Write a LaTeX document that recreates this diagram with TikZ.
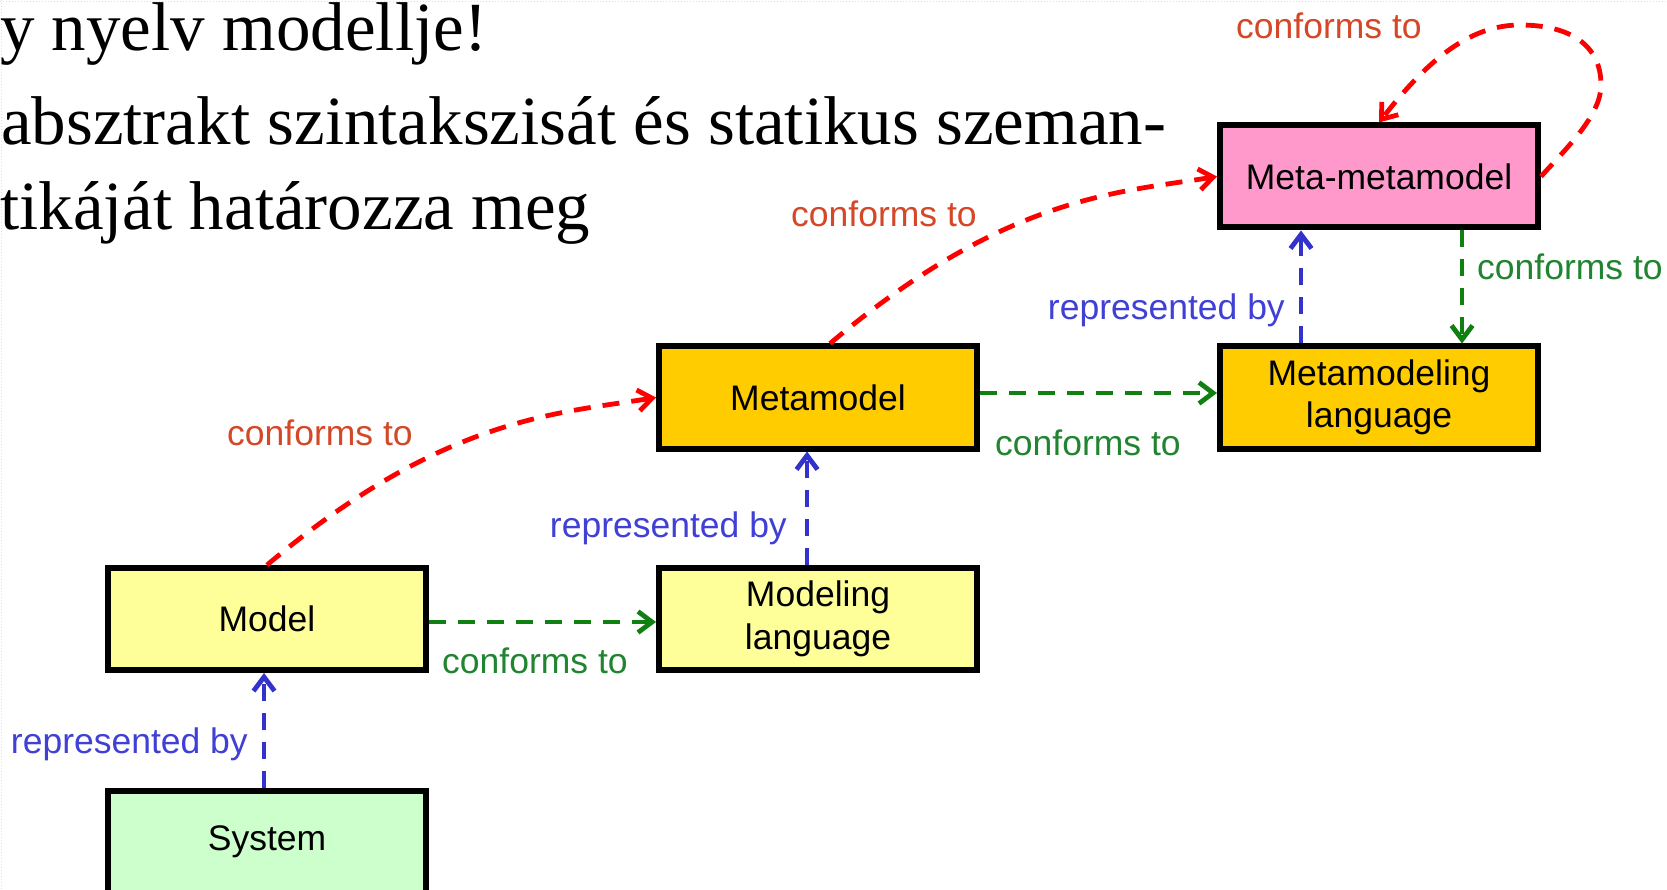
\documentclass[tikz,border=0pt]{standalone}
\usepackage{fontspec}
\setmainfont{Liberation Serif}
\newfontfamily\diafont{Liberation Sans}
\usetikzlibrary{arrows.meta,calc}

\definecolor{boxpink}{RGB}{255,153,204}
\definecolor{boxgold}{RGB}{255,204,0}
\definecolor{boxyellow}{RGB}{255,255,153}
\definecolor{boxgreen}{RGB}{204,255,204}
\definecolor{conred}{RGB}{255,0,0}
\definecolor{labred}{RGB}{212,72,40}
\definecolor{congreen}{RGB}{16,128,16}
\definecolor{labgreen}{RGB}{32,132,48}
\definecolor{conblue}{RGB}{51,51,204}
\definecolor{labblue}{RGB}{64,64,214}

\begin{document}
\begin{tikzpicture}[x=1pt,y=-1pt,
  box/.style={draw=black, line width=6pt, minimum width=318pt, minimum height=102pt,
    inner sep=0pt, align=center, font=\diafont\fontsize{35.5}{42.5}\selectfont},
  lab/.style={inner sep=0pt, font=\diafont\fontsize{35.5}{42.5}\selectfont},
  conn/.style={line width=4.8pt, dash pattern=on 17pt off 12pt,
    -{Straight Barb[length=14pt,width=21pt]}},
  redc/.style={conn, draw=conred},
  greenc/.style={conn, draw=congreen},
  bluec/.style={conn, draw=conblue},
  title/.style={inner sep=0pt, anchor=base west, font=\fontsize{69}{80}\selectfont}
]
\useasboundingbox (0,0) rectangle (1667,890);
\fill[white] (0,0) rectangle (1667,890);
\draw[gray!25, line width=1pt, dotted] (0,2) -- (1667,2);
\draw[gray!25, line width=1pt, dotted] (1.5,0) -- (1.5,890);

% title text
\node[title] (t1) at (0,51) {y nyelv modellje!};
\node[title] (t2) at (1,145) {absztrakt szintakszisát és statikus szeman-};
\node[title] (t3) at (0,230) {tikáját határozza meg};

% boxes
\node[box, fill=boxpink] (MMM) at (1379,176.5) {Meta-metamodel};
\node[box, fill=boxgold] (MML) at (1379,397.5) {Metamodeling\\language};
\node[box, fill=boxgold] (MM) at (818,397.5) {Metamodel};
\node[box, fill=boxyellow] (ML) at (818,619) {Modeling\\language};
\node[box, fill=boxyellow] (Model) at (267,619) {Model};
\node[box, fill=boxgreen] (Sys) at (267,842) {System};

% conforms to (red)
\draw[redc] (Model.north) .. controls +(176,-148) and +(-99,16) .. (MM.west);
\draw[redc] ($(MM.north)+(12,0)$) .. controls +(176,-148) and +(-99,16) .. (MMM.west);
\draw[redc] (MMM.east) .. controls +(27,-30) and +(0,30) .. (1601,85)
  .. controls +(0,-40) and +(50,0) .. (1520,25)
  .. controls +(-50,0) and +(49,-63) .. (MMM.north);

% conforms to (green)
\draw[greenc] ($(Model.east)+(0,3)$) -- ($(ML.west)+(0,3)$);
\draw[greenc] ($(MM.east)+(0,-4.5)$) -- ($(MML.west)+(0,-4.5)$);
\draw[greenc] ($(MMM.south)+(83,0)$) -- ($(MML.north)+(83,0)$);

% represented by (blue)
\draw[bluec] ($(Sys.north)+(-3,0)$) -- ($(Model.south)+(-3,0)$);
\draw[bluec] ($(ML.north)+(-11,0)$) -- ($(MM.south)+(-11,0)$);
\draw[bluec] ($(MML.north)+(-78,0)$) -- ($(MMM.south)+(-78,0)$);

% labels
\node[lab, text=labred, anchor=base west] (l1) at (227,445) {conforms to};
\node[lab, text=labred, anchor=base west] (l2) at (791,227) {conforms to};
\node[lab, text=labred, anchor=base west] (l3) at (1236,39) {conforms to};
\node[lab, text=labgreen, anchor=base west] (l4) at (442,673) {conforms to};
\node[lab, text=labgreen, anchor=base west] (l5) at (995,455) {conforms to};
\node[lab, text=labgreen, anchor=base west] (l6) at (1477,280) {conforms to};
\node[lab, text=labblue, anchor=base east] (l7) at (248,753) {represented by};
\node[lab, text=labblue, anchor=base east] (l8) at (787,537) {represented by};
\node[lab, text=labblue, anchor=base east] (l9) at (1285,320) {represented by};
\end{tikzpicture}
\end{document}
